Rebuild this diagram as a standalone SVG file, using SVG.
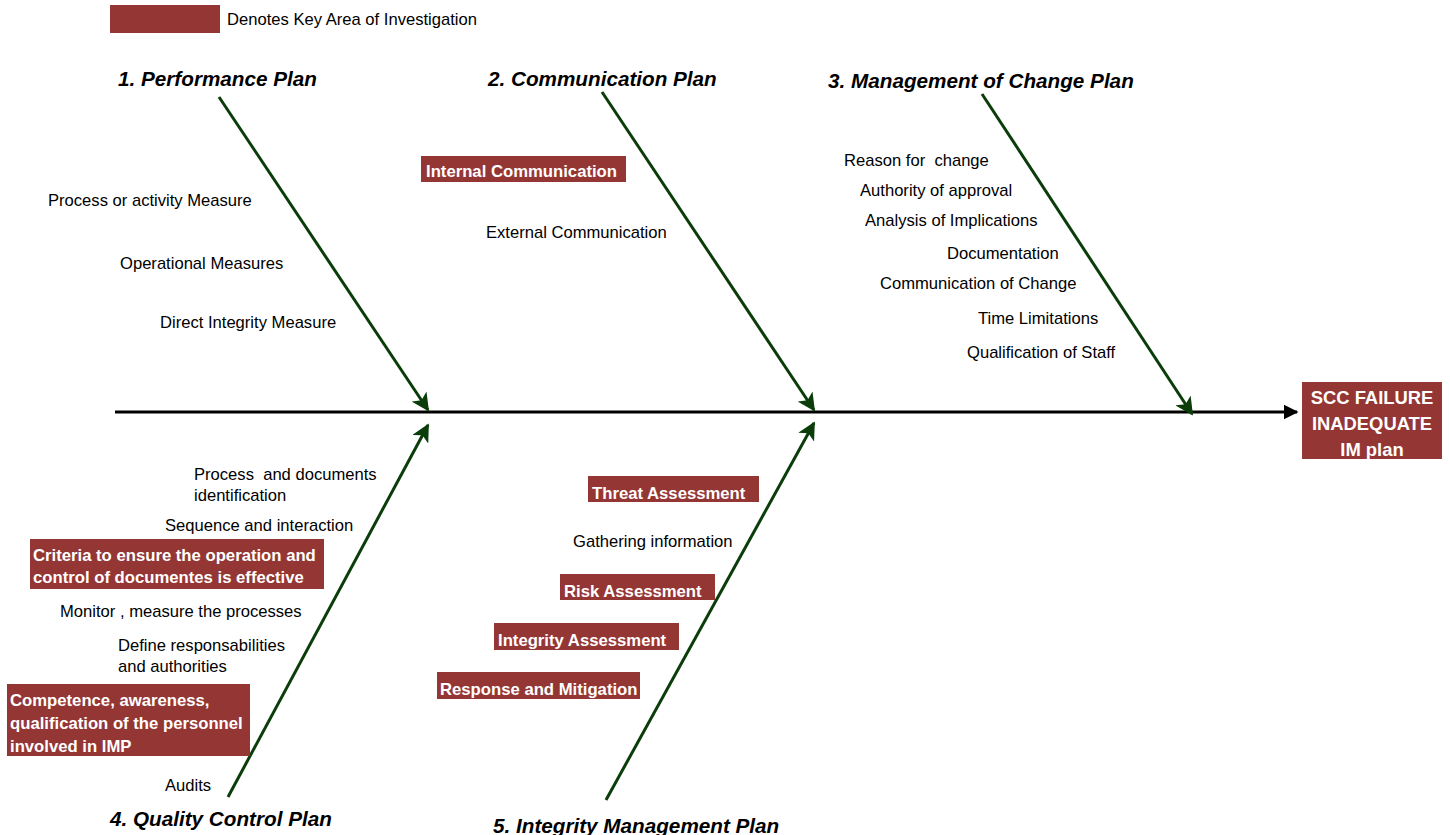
<svg xmlns="http://www.w3.org/2000/svg" width="1450" height="835" viewBox="0 0 1450 835">
<style>
.t{font-family:"Liberation Sans",Arial,sans-serif;font-size:16.6px;fill:#000}
.k{font-family:"Liberation Sans",Arial,sans-serif;font-size:16.7px;font-weight:bold;fill:#fff}
.h{font-family:"Liberation Sans",Arial,sans-serif;font-size:20.7px;font-weight:bold;font-style:italic;fill:#000}
.box{fill:#943634}
.bone{stroke:#0a3d0a;stroke-width:3;fill:none;marker-end:url(#ga)}
</style>
<defs>
<marker id="ga" viewBox="0 0 10 10" refX="9" refY="5" markerWidth="6" markerHeight="6" markerUnits="strokeWidth" orient="auto"><path d="M0,0 L10,5 L0,10 L2.5,5 z" fill="#0a3d0a"/></marker>
<marker id="ba" viewBox="0 0 10 10" refX="9" refY="5" markerWidth="5" markerHeight="5" markerUnits="strokeWidth" orient="auto"><path d="M0,0 L10,5 L0,10 z" fill="#000"/></marker>
</defs>
<g id="legend">
<rect class="box" x="110" y="5" width="110" height="28"/>
<text class="t" x="227" y="25">Denotes Key Area of Investigation</text>
</g>
<g id="connectors">
<line x1="115" y1="412" x2="1297" y2="412" stroke="#000" stroke-width="3" marker-end="url(#ba)"/>
<line class="bone" x1="219" y1="97" x2="428" y2="410"/>
<line class="bone" x1="602" y1="92" x2="814" y2="410"/>
<line class="bone" x1="982" y1="94" x2="1192" y2="414"/>
<line class="bone" x1="228" y1="797" x2="428" y2="425"/>
<line class="bone" x1="606" y1="800" x2="814" y2="423"/>
</g>
<g id="effect">
<rect class="box" x="1302" y="382" width="140" height="77"/>
<text class="k" x="1372" y="404" text-anchor="middle" style="font-size:18.4px">SCC FAILURE</text>
<text class="k" x="1372" y="430" text-anchor="middle" style="font-size:18.4px">INADEQUATE</text>
<text class="k" x="1372" y="456" text-anchor="middle" style="font-size:18.4px">IM plan</text>
</g>
<g id="performance-plan">
<text class="h" x="118" y="86">1. Performance Plan</text>
<text class="t" x="48" y="206">Process or activity Measure</text>
<text class="t" x="120" y="269">Operational Measures</text>
<text class="t" x="160" y="328">Direct Integrity Measure</text>
</g>
<g id="communication-plan">
<text class="h" x="488" y="86">2. Communication Plan</text>
<rect class="box" x="421" y="156" width="205" height="26"/>
<text class="k" x="426" y="177">Internal Communication</text>
<text class="t" x="486" y="238">External Communication</text>
</g>
<g id="management-of-change-plan">
<text class="h" x="828" y="88">3. Management of Change Plan</text>
<text class="t" x="844" y="166" xml:space="preserve">Reason for  change</text>
<text class="t" x="860" y="196">Authority of approval</text>
<text class="t" x="865" y="226">Analysis of Implications</text>
<text class="t" x="947" y="259">Documentation</text>
<text class="t" x="880" y="289">Communication of Change</text>
<text class="t" x="978" y="324">Time Limitations</text>
<text class="t" x="967" y="358">Qualification of Staff</text>
</g>
<g id="quality-control-plan">
<text class="h" x="110" y="826">4. Quality Control Plan</text>
<text class="t" x="194" y="480" xml:space="preserve">Process  and documents</text>
<text class="t" x="194" y="501">identification</text>
<text class="t" x="165" y="531">Sequence and interaction</text>
<rect class="box" x="30" y="539" width="294" height="50"/>
<text class="k" x="33" y="561">Criteria to ensure the operation and</text>
<text class="k" x="33" y="583">control of documentes is effective</text>
<text class="t" x="60" y="617">Monitor , measure the processes</text>
<text class="t" x="118" y="651">Define responsabilities</text>
<text class="t" x="118" y="672">and authorities</text>
<rect class="box" x="7" y="684" width="243" height="72"/>
<text class="k" x="10" y="706">Competence, awareness,</text>
<text class="k" x="10" y="729">qualification of the personnel</text>
<text class="k" x="10" y="752">involved in IMP</text>
<text class="t" x="165" y="791">Audits</text>
</g>
<g id="integrity-management-plan">
<text class="h" x="493" y="833">5. Integrity Management Plan</text>
<rect class="box" x="588" y="476" width="171" height="26"/>
<text class="k" x="592" y="499">Threat Assessment</text>
<text class="t" x="573" y="547">Gathering information</text>
<rect class="box" x="560" y="574" width="155" height="26"/>
<text class="k" x="564" y="597">Risk Assessment</text>
<rect class="box" x="494" y="623" width="185" height="27"/>
<text class="k" x="498" y="646">Integrity Assessment</text>
<rect class="box" x="437" y="672" width="203" height="27"/>
<text class="k" x="440" y="695">Response and Mitigation</text>
</g>
</svg>
